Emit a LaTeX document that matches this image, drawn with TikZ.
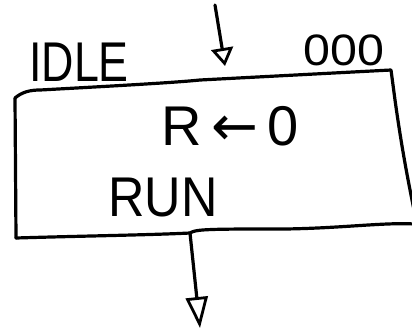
\documentclass[tikz,border=0pt]{standalone}
\usepackage{fontspec}
\setmainfont{Liberation Sans}
\newfontfamily\dvfont{DejaVu Sans}
\usetikzlibrary{arrows.meta}
\tikzset{
  pen/.style={line width=3.2pt, line cap=round, line join=round},
  hand/.style={inner sep=0pt, font=\fontsize{56}{60}\selectfont},
  openhead/.style={-{Triangle[open, length=#1, width=22pt, line width=2.8pt]}},
}
\begin{document}
\begin{tikzpicture}[x=1pt,y=-1pt]
\useasboundingbox (0,0) rectangle (412,330);
% state box corners
\coordinate (tl) at (15,98);
\coordinate (tr) at (391,70);
\coordinate (br) at (414,224);
\coordinate (bl) at (16,238);
\coordinate (out) at (190,233);
\coordinate (outtip) at (200,328);
\coordinate (in) at (215,5);
\coordinate (intip) at (225,66);
% box
\draw[pen] (tl) .. controls (22,92) and (30,90) .. (40,90)
  .. controls (150,84) and (180,82) .. (200,80) -- (tr) -- (395,100) .. controls (402,150) and (408,180) .. (414,210);
\draw[pen] (tl) -- (bl);
\draw[pen] (bl) .. controls (80,236) and (150,235) .. (out) .. controls (195,230) and (200,229) .. (260,229) .. controls (330,230) and (380,222) .. (br);
% arrows
\draw[pen, openhead=18pt] (in) -- (intip);
\draw[pen, openhead=31pt] (out) -- (outtip);
% texts
\node[hand, xscale=0.8] (idle) at (79,62) {IDLE};
\node[hand, font=\fontsize{44}{48}\selectfont, xscale=1.1] (code) at (344,50) {000};
\node[hand] (assign) at (230,126) {R\,{\dvfont ←}\,0};
\node[hand, xscale=0.9] (run) at (163,198) {RUN};
\end{tikzpicture}
\end{document}
